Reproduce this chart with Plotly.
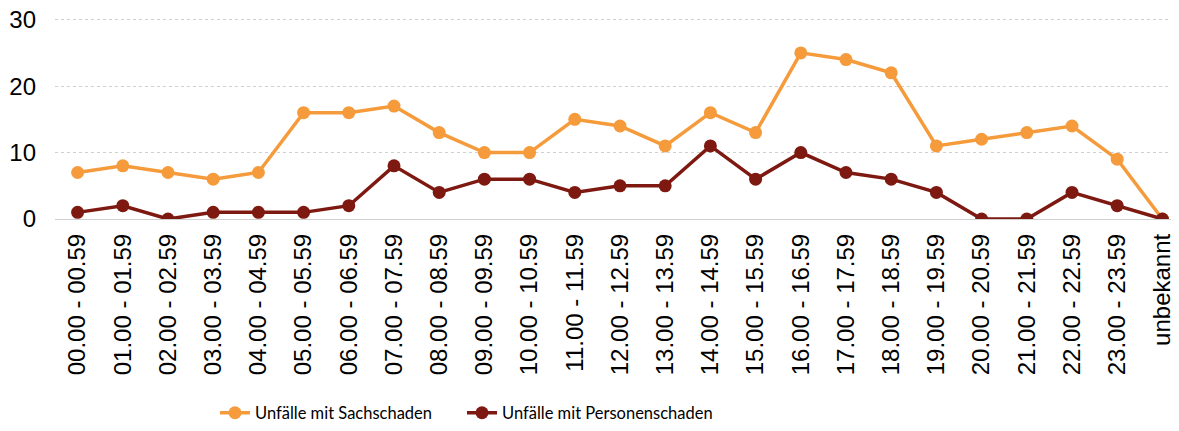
import plotly.graph_objects as go

categories = ["00.00 - 00.59", "01.00 - 01.59", "02.00 - 02.59", "03.00 - 03.59", "04.00 - 04.59",
              "05.00 - 05.59", "06.00 - 06.59", "07.00 - 07.59", "08.00 - 08.59", "09.00 - 09.59",
              "10.00 - 10.59", "11.00 - 11.59", "12.00 - 12.59", "13.00 - 13.59", "14.00 - 14.59",
              "15.00 - 15.59", "16.00 - 16.59", "17.00 - 17.59", "18.00 - 18.59", "19.00 - 19.59",
              "20.00 - 20.59", "21.00 - 21.59", "22.00 - 22.59", "23.00 - 23.59", "unbekannt"]
sachschaden = [7, 8, 7, 6, 7, 16, 16, 17, 13, 10, 10, 15, 14, 11, 16, 13, 25, 24, 22, 11, 12, 13, 14, 9, 0]
personenschaden = [1, 2, 0, 1, 1, 1, 2, 8, 4, 6, 6, 4, 5, 5, 11, 6, 10, 7, 6, 4, 0, 0, 4, 2, 0]
y_ticks = [0, 10, 20, 30]

fig = go.Figure()
fig.add_trace(go.Scatter(x=categories, y=sachschaden, mode="lines+markers",
                         name="Unfälle mit Sachschaden", legend="legend",
                         line=dict(color="#F59B3C", width=3.5),
                         marker=dict(color="#F59B3C", size=13)))
fig.add_trace(go.Scatter(x=categories, y=personenschaden, mode="lines+markers",
                         name="Unfälle mit Personenschaden", legend="legend2",
                         line=dict(color="#7E1911", width=3.5),
                         marker=dict(color="#7E1911", size=13)))

legend_font = dict(family="Lato, Roboto, Liberation Sans", size=16.5, color="black")

fig.update_layout(
    width=1179, height=431,
    margin=dict(l=47, r=2, t=10.3, b=220, autoexpand=False),
    paper_bgcolor="white", plot_bgcolor="white",
    font=dict(family="Arial, Liberation Sans", size=24, color="black"),
    xaxis=dict(type="category", range=[-0.5, 24.5], tickangle=-90,
               showgrid=False, zeroline=False, showline=False, automargin=False,
               tickfont=dict(size=24), ticks="", ticklabelstandoff=9),
    yaxis=dict(range=[0, 30.25], tickvals=y_ticks, showgrid=True, automargin=False,
               gridcolor="#D0D0D0", griddash="dot", gridwidth=1,
               zeroline=True, zerolinecolor="#D0D0D0", zerolinewidth=1,
               tickfont=dict(size=24), ticks="", ticklabelstandoff=18,
               ticklabeloverflow="allow"),
    legend=dict(orientation="h", xref="container", yref="container",
                x=207 / 1179, y=1 - 405 / 431, xanchor="left", yanchor="middle",
                font=legend_font),
    legend2=dict(orientation="h", xref="container", yref="container",
                 x=454 / 1179, y=1 - 405 / 431, xanchor="left", yanchor="middle",
                 font=legend_font),
    showlegend=True,
)

fig.write_html("out.html")
